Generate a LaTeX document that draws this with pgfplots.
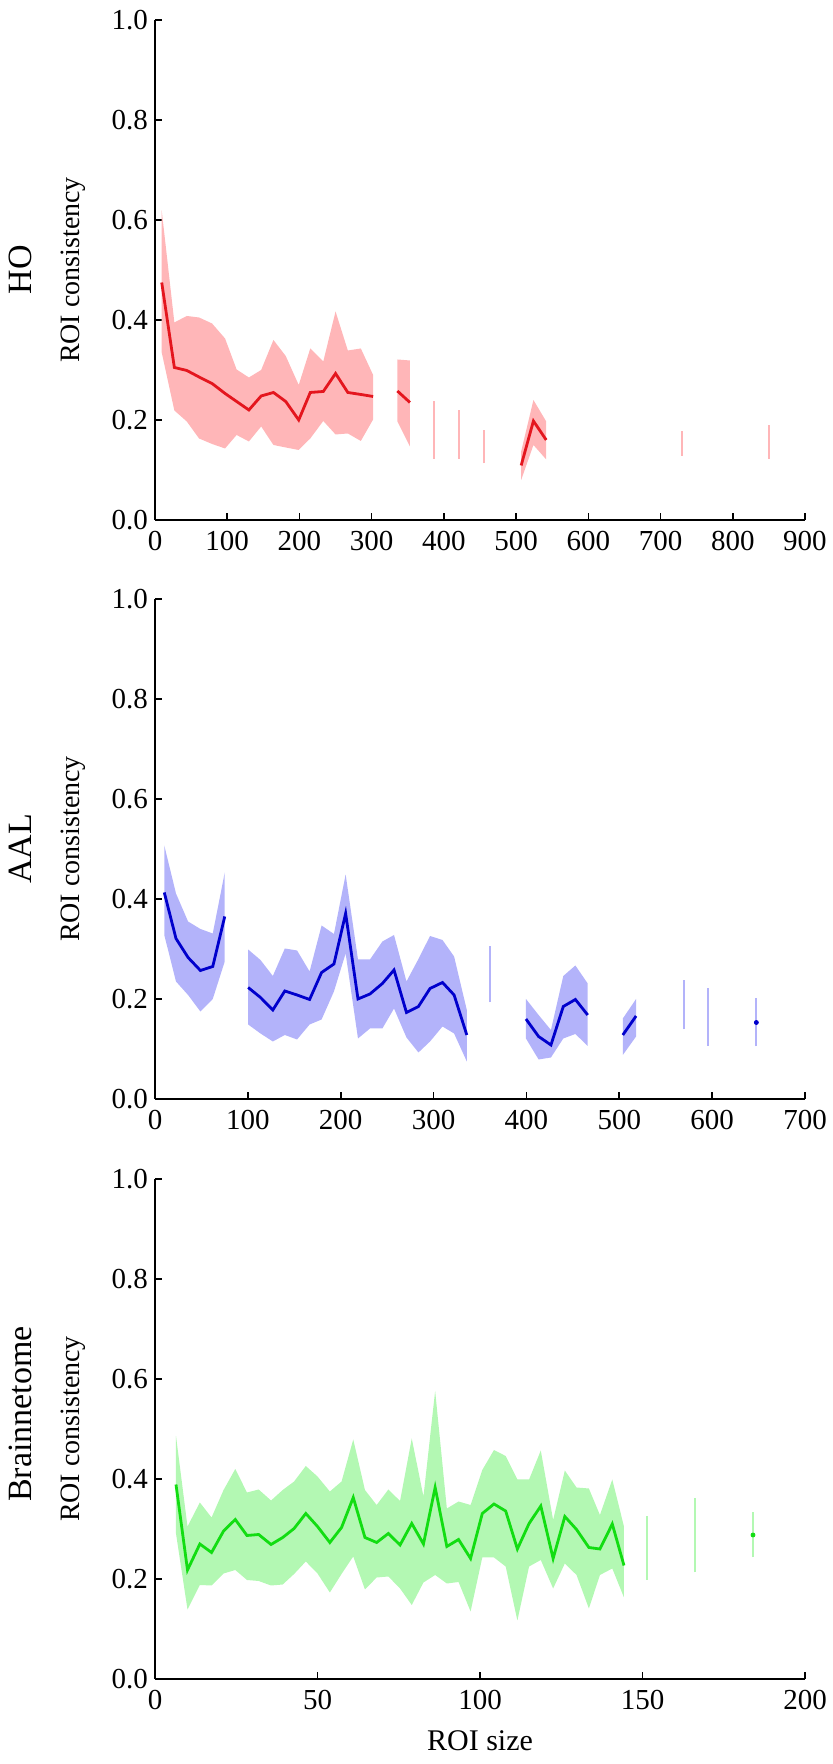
\documentclass[border=0pt]{standalone}
\usepackage{fontspec}
\setmainfont{Liberation Serif}
\usepackage{pgfplots}
\usepackage{pgfplotstable}
\pgfplotsset{compat=1.18}
\usepgfplotslibrary{fillbetween}

\definecolor{holine}{HTML}{E4161E}
\definecolor{hoband}{HTML}{FFB6B8}
\definecolor{aalline}{HTML}{0000CC}
\definecolor{aalband}{HTML}{B3B3FA}
\definecolor{bnline}{HTML}{12DD12}
\definecolor{bnband}{HTML}{B3F8B3}

% one contiguous run of bins: band between lo and hi, mean line on top
\newcommand{\band}[4]{%
  \addplot[name path=u#4, draw=none, forget plot] table[x=x, y=hi] {#1};
  \addplot[name path=l#4, draw=none, forget plot] table[x=x, y=lo] {#1};
  \addplot[fill=#2, draw=none, forget plot] fill between[of=u#4 and l#4];
  \addplot[#3, line width=1.4pt, forget plot] table[x=x, y=m] {#1};
}

\pgfplotsset{
  panel/.style={
    scale only axis, width=325pt, height=250pt,
    axis lines*=left, axis line style={line width=1.3pt},
    tick align=inside, major tick length=3.5pt,
    tick style={line width=0.8pt, black},
    ymin=0, ymax=1, ytick={0,0.2,0.4,0.6,0.8,1},
    yticklabel style={/pgf/number format/.cd, fixed, fixed zerofill, precision=1},
    /pgf/number format/assume math mode=true,
    tick label style={font=\fontsize{14.5}{16}\selectfont},
    xticklabel style={yshift=-2pt},
    ylabel={ROI consistency},
    every axis y label/.style={at={(axis description cs:-0.126,0.5)}, rotate=90, anchor=center,
      font=\fontsize{14}{16}\selectfont},
    every axis x label/.style={at={(axis description cs:0.5,-0.124)}, anchor=center,
      font=\fontsize{15}{17}\selectfont},
    clip=false,
  },
}
\tikzset{panelname/.style={rotate=90, anchor=center, font=\fontsize{17}{20}\selectfont}}

% HO
\pgfplotstableread{
x lo m hi
9.3 0.335 0.475 0.619
26.8 0.219 0.305 0.395
44 0.197 0.299 0.408
61 0.163 0.286 0.405
79 0.152 0.273 0.393
97 0.143 0.253 0.363
113 0.170 0.237 0.301
130 0.157 0.220 0.285
147 0.187 0.248 0.300
164 0.150 0.255 0.360
181 0.145 0.237 0.328
199 0.140 0.200 0.270
215 0.163 0.255 0.343
233 0.198 0.257 0.317
250 0.171 0.293 0.417
267 0.173 0.255 0.339
285 0.158 0.251 0.343
302 0.201 0.247 0.290
}\hoA
\pgfplotstableread{
x lo m hi
335.6 0.197 0.258 0.321
353 0.147 0.235 0.319
}\hoB
\pgfplotstableread{
x lo m hi
507 0.080 0.109 0.137
524 0.150 0.198 0.240
541.7 0.121 0.160 0.197
}\hoC

% AAL
\pgfplotstableread{
x lo m hi
10 0.328 0.413 0.507
22.6 0.235 0.321 0.411
35.6 0.208 0.283 0.355
48.9 0.175 0.257 0.340
62.2 0.200 0.265 0.331
75.1 0.275 0.365 0.453
}\aalA
\pgfplotstableread{
x lo m hi
100.3 0.149 0.223 0.299
113.6 0.131 0.203 0.278
126.9 0.115 0.178 0.246
139.8 0.128 0.216 0.301
153 0.119 0.208 0.297
166.5 0.149 0.199 0.255
179.4 0.159 0.253 0.347
192.7 0.215 0.270 0.330
205.3 0.291 0.371 0.449
218.6 0.121 0.200 0.279
231.5 0.141 0.210 0.279
244.9 0.141 0.231 0.315
257.4 0.181 0.258 0.328
270.8 0.123 0.173 0.235
283.7 0.093 0.185 0.280
296.2 0.115 0.221 0.326
309.6 0.145 0.233 0.318
322.1 0.131 0.208 0.285
335.8 0.075 0.128 0.178
}\aalB
\pgfplotstableread{
x lo m hi
399.5 0.121 0.160 0.200
413.1 0.079 0.125 0.168
426.4 0.083 0.108 0.138
439.7 0.121 0.185 0.246
452.7 0.130 0.199 0.267
466 0.106 0.168 0.231
}\aalC
\pgfplotstableread{
x lo m hi
503.8 0.088 0.128 0.161
518.1 0.125 0.166 0.200
}\aalD

% Brainnetome
\pgfplotstableread{
x lo m hi
6.46 0.291 0.389 0.486
10.0 0.139 0.218 0.305
13.8 0.188 0.270 0.353
17.4 0.187 0.253 0.323
21.1 0.211 0.296 0.378
24.7 0.218 0.319 0.420
28.3 0.198 0.287 0.373
31.9 0.196 0.289 0.379
35.7 0.187 0.269 0.357
39.3 0.189 0.283 0.378
42.8 0.210 0.301 0.395
46.4 0.235 0.331 0.426
50.0 0.211 0.305 0.405
53.8 0.173 0.273 0.375
57.4 0.210 0.303 0.395
61.0 0.245 0.363 0.479
64.6 0.179 0.283 0.378
68.2 0.203 0.273 0.348
71.8 0.205 0.291 0.379
75.4 0.181 0.268 0.356
79.0 0.148 0.311 0.481
82.6 0.193 0.270 0.365
86.2 0.208 0.383 0.576
89.8 0.191 0.265 0.341
93.4 0.194 0.279 0.355
97.1 0.135 0.241 0.348
100.7 0.243 0.331 0.418
104.3 0.243 0.350 0.458
107.9 0.225 0.336 0.446
111.5 0.117 0.260 0.399
115.1 0.225 0.311 0.399
118.7 0.238 0.346 0.457
122.5 0.181 0.241 0.318
126.1 0.231 0.325 0.417
129.7 0.208 0.299 0.383
133.5 0.141 0.263 0.381
136.9 0.208 0.260 0.328
140.7 0.221 0.310 0.399
144.3 0.163 0.227 0.305
}\bnA

\begin{document}
\begin{tikzpicture}

\begin{axis}[panel, at={(77.5pt,622pt)}, anchor=south west,
  xmin=0, xmax=900, xtick={0,100,...,900}]
  \band{\hoA}{hoband}{holine}{a}
  \band{\hoB}{hoband}{holine}{b}
  \band{\hoC}{hoband}{holine}{c}
  \addplot[hoband, line width=1pt] coordinates {(386.6,0.122) (386.6,0.237)};
  \addplot[hoband, line width=1pt] coordinates {(421,0.122) (421,0.219)};
  \addplot[hoband, line width=1pt] coordinates {(455.6,0.113) (455.6,0.180)};
  \addplot[hoband, line width=1pt] coordinates {(730,0.128) (730,0.177)};
  \addplot[hoband, line width=1pt] coordinates {(849.5,0.122) (849.5,0.190)};
  \node[panelname] at (axis description cs:-0.2077,0.5) {HO};
\end{axis}

\begin{axis}[panel, at={(77.5pt,332.5pt)}, anchor=south west,
  xmin=0, xmax=700, xtick={0,100,...,700}]
  \band{\aalA}{aalband}{aalline}{a}
  \band{\aalB}{aalband}{aalline}{b}
  \band{\aalC}{aalband}{aalline}{c}
  \band{\aalD}{aalband}{aalline}{d}
  \addplot[aalband, line width=1pt] coordinates {(361,0.193) (361,0.305)};
  \addplot[aalband, line width=1pt] coordinates {(569.6,0.139) (569.6,0.238)};
  \addplot[aalband, line width=1pt] coordinates {(595.5,0.106) (595.5,0.221)};
  \addplot[aalband, line width=1pt] coordinates {(647.6,0.105) (647.6,0.201)};
  \addplot[aalline, only marks, mark=*, mark size=1pt] coordinates {(647.6,0.153)};
  \node[panelname] at (axis description cs:-0.2077,0.5) {AAL};
\end{axis}

\begin{axis}[panel, at={(77.5pt,42.5pt)}, anchor=south west,
  xmin=0, xmax=200, xtick={0,50,...,200}, xlabel={ROI size}]
  \band{\bnA}{bnband}{bnline}{a}
  \addplot[bnband, line width=1pt] coordinates {(151.5,0.198) (151.5,0.326)};
  \addplot[bnband, line width=1pt] coordinates {(166,0.213) (166,0.361)};
  \addplot[bnband, line width=1pt] coordinates {(184,0.243) (184,0.333)};
  \addplot[bnline, only marks, mark=*, mark size=1pt] coordinates {(184,0.288)};
  \node[panelname] at (axis description cs:-0.2077,0.53) {Brainnetome};
\end{axis}

\pgfresetboundingbox
\path[use as bounding box] (0,0) rectangle (416pt,882pt);
\end{tikzpicture}
\end{document}
